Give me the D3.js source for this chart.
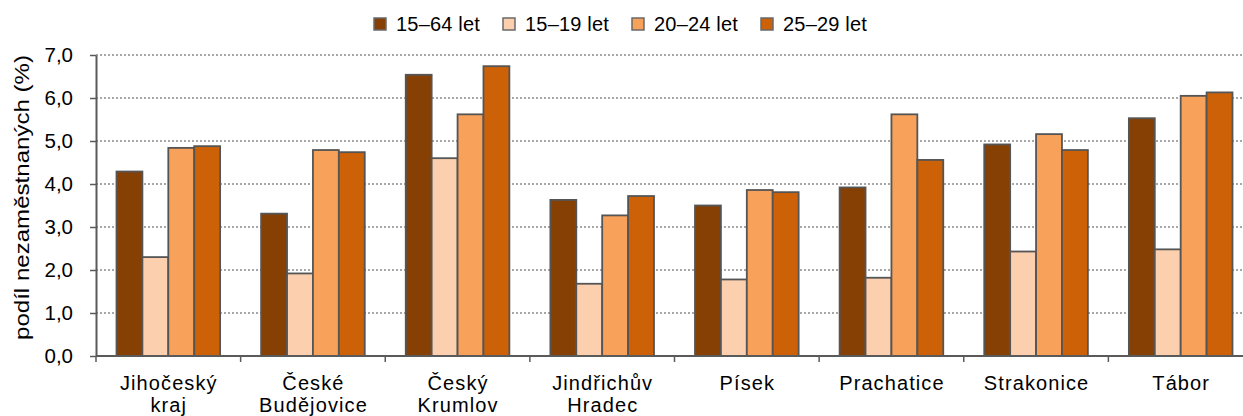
<!DOCTYPE html>
<head>
  <meta charset="utf-8">
  <title>Podíl nezaměstnaných</title>
  <script src="https://d3js.org/d3.v7.min.js"></script>
  <style>
    body { margin: 0; background: #fff; }
    text { font-family: 'Liberation Sans', Arial, sans-serif; fill: #000; }
  </style>
</head>
<body>
  <div id="chart"></div>

  <script type="text/javascript">

    // Kategorie (okresy) a věkové skupiny
    var categories = ['Jihočeský kraj', 'České Budějovice', 'Český Krumlov', 'Jindřichův Hradec',
                      'Písek', 'Prachatice', 'Strakonice', 'Tábor'];
    var seriesNames = ['15–64 let', '15–19 let', '20–24 let', '25–29 let'];
    var seriesColors = ['#874004', '#fcd0ae', '#f7a15b', '#cc6107'];

    // Hodnoty (%)
    var v1564 = [4.29, 3.31, 6.54, 3.63, 3.50, 3.92, 4.92, 5.53];
    var v1519 = [2.30, 1.92, 4.60, 1.68, 1.78, 1.82, 2.43, 2.48];
    var v2024 = [4.84, 4.79, 5.62, 3.27, 3.86, 5.62, 5.16, 6.05];
    var v2529 = [4.88, 4.74, 6.74, 3.72, 3.81, 4.56, 4.79, 6.13];

    var yTicks = [0, 1, 2, 3, 4, 5, 6, 7];

    var seriesValues = [v1564, v1519, v2024, v2529];

    // Tabulka pro d3
    var data = categories.map(function (c, i) {
      return {
        category: c,
        values: seriesNames.map(function (s, j) {
          return { series: s, value: seriesValues[j][i] };
        })
      };
    });

    var width = 1243;
    var height = 416;

    // české desetinné čárky
    var cz = d3.formatLocale({ decimal: ',', thousands: ' ', grouping: [3], currency: ['', ''] });
    var fmt = cz.format('.1f');

    // graf je vpravo oříznutý, proto range sahá za okraj
    var x0 = d3.scaleBand()
      .domain(categories)
      .range([96, 1253]);

    var x1 = d3.scaleBand()
      .domain(seriesNames)
      .range([20.5, x0.bandwidth() - 20.5]);

    var y = d3.scaleLinear()
      .domain([0, 7])
      .range([356, 55]);

    var color = d3.scaleOrdinal()
      .domain(seriesNames)
      .range(seriesColors);

    var svg = d3.select('#chart')
      .append('svg')
        .attr('width', width)
        .attr('height', height);

    // Mřížka (tečkovaná)
    svg.append('g')
      .selectAll('line')
      .data(yTicks.filter(function (d) { return d > 0; }))
      .enter().append('line')
        .attr('x1', 96)
        .attr('x2', width)
        .attr('y1', function (d) { return y(d); })
        .attr('y2', function (d) { return y(d); })
        .attr('stroke', '#8a8a8a')
        .attr('stroke-width', 1.5)
        .attr('stroke-dasharray', '2,2');

    // Sloupce
    var groups = svg.append('g')
      .selectAll('g')
      .data(data)
      .enter().append('g')
        .attr('transform', function (d) { return 'translate(' + x0(d.category) + ',0)'; });

    groups.selectAll('rect')
      .data(function (d) { return d.values; })
      .enter().append('rect')
        .attr('x', function (d) { return x1(d.series); })
        .attr('y', function (d) { return y(d.value); })
        .attr('width', x1.bandwidth())
        .attr('height', function (d) { return y(0) - y(d.value); })
        .attr('fill', function (d) { return color(d.series); })
        .attr('stroke', '#555')
        .attr('stroke-width', 1.8);

    // Osa y
    var yAxis = d3.axisLeft(y)
      .tickValues(yTicks)
      .tickFormat(fmt)
      .tickSize(6)
      .tickSizeOuter(0)
      .tickPadding(17);

    var gy = svg.append('g')
      .attr('transform', 'translate(96,0)')
      .call(yAxis);
    gy.select('.domain').attr('stroke', '#5a5a5a').attr('stroke-width', 2);
    gy.selectAll('.tick line').attr('stroke', '#5a5a5a').attr('stroke-width', 1.5);
    gy.selectAll('.tick text')
      .style('font-size', '20.5px')
      .style('font-family', "'Liberation Sans', Arial, sans-serif")
      .attr('fill', '#000');

    // Popisek osy y
    svg.append('text')
      .attr('transform', 'translate(29,' + ((y(0) + y(7)) / 2 - 8) + ') rotate(-90)')
      .style('text-anchor', 'middle')
      .style('font-size', '20px')
      .attr('textLength', 285)
      .attr('lengthAdjust', 'spacingAndGlyphs')
      .text('podíl nezaměstnaných (%)');

    // Osa x
    svg.append('line')
      .attr('x1', 96)
      .attr('x2', width)
      .attr('y1', y(0))
      .attr('y2', y(0))
      .attr('stroke', '#5a5a5a')
      .attr('stroke-width', 2);

    svg.append('g')
      .selectAll('line')
      .data(categories)
      .enter().append('line')
        .attr('x1', function (d) { return x0(d); })
        .attr('x2', function (d) { return x0(d); })
        .attr('y1', y(0))
        .attr('y2', y(0) + 6)
        .attr('stroke', '#5a5a5a')
        .attr('stroke-width', 1.5);

    // Popisky kategorií (dva řádky, řidší písmo)
    var labels = svg.append('g')
      .selectAll('text')
      .data(categories)
      .enter().append('text')
        .attr('transform', function (d) {
          return 'translate(' + (x0(d) + x0.bandwidth() / 2 + 0.5) + ',390)';
        })
        .style('text-anchor', 'middle')
        .style('font-size', '20px')
        .style('letter-spacing', '1.1px');

    labels.selectAll('tspan')
      .data(function (d) { return d.split(' '); })
      .enter().append('tspan')
        .attr('x', 0)
        .attr('dy', function (d, i) { return i === 0 ? 0 : 22; })
        .text(function (d) { return d; });

    // Legenda
    var legend = svg.append('g')
      .selectAll('g')
      .data(seriesNames)
      .enter().append('g')
        .attr('transform', function (d, i) { return 'translate(' + (374 + i * 129) + ',18)'; });

    legend.append('rect')
      .attr('width', 12)
      .attr('height', 12)
      .attr('fill', function (d) { return color(d); })
      .attr('stroke', '#6a6a6a')
      .attr('stroke-width', 1.5);

    legend.append('text')
      .attr('x', 22)
      .attr('y', 13)
      .style('font-size', '20px')
      .style('letter-spacing', '0.2px')
      .text(function (d) { return d; });

  </script>
</body>
